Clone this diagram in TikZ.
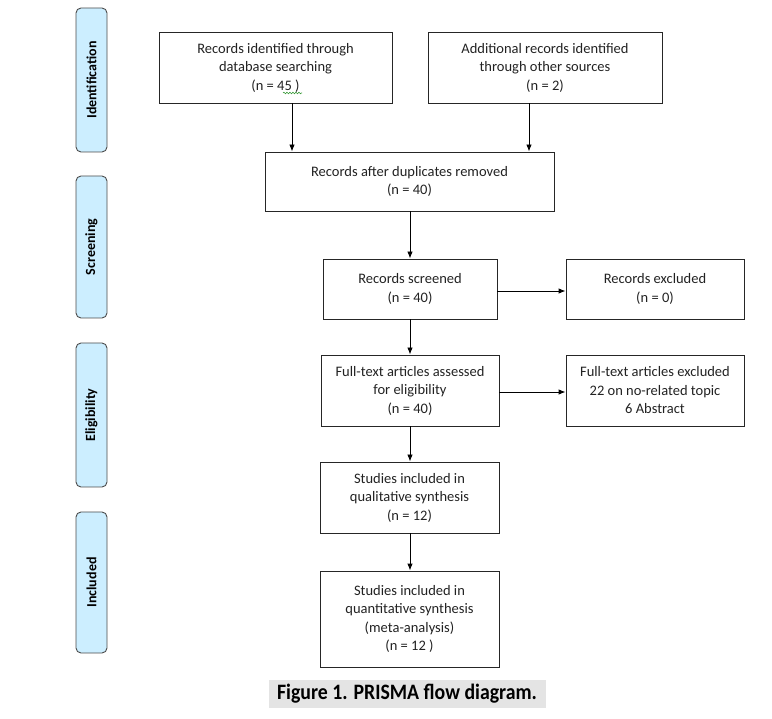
\documentclass[tikz,border=0pt]{standalone}
\usepackage{fontspec}
\setmainfont{Carlito}
\newfontfamily\capfont{Carlito}[FakeStretch=0.9]
\usetikzlibrary{arrows.meta,calc,decorations.pathmorphing}
\definecolor{sidefill}{HTML}{CCEEFF}
\definecolor{txt}{HTML}{222222}
\definecolor{capbg}{HTML}{E4E4E4}
\definecolor{spell}{HTML}{3A9A3A}
\tikzset{
  flowbox/.style={draw=black!85, line width=0.9pt, inner sep=0pt, align=center,
    text=txt, font=\fontsize{14.5}{18.5}\selectfont},
  sidebox/.style={draw=black!70, line width=0.9pt, fill=sidefill, rounded corners=5pt,
    inner sep=0pt, minimum width=31pt, text=black, font=\bfseries\fontsize{14}{16}\selectfont},
  arr/.style={draw=black, line width=0.9pt, -{Latex[length=7pt,width=5.5pt]}},
}
\begin{document}
\begin{tikzpicture}[x=1pt,y=-1pt]
\useasboundingbox (0,0) rectangle (772,719);
% side labels
\node[sidebox, minimum height=144pt] (sid) at (91.5,80) {\rotatebox{90}{Identification}};
\node[sidebox, minimum height=142pt] (ssc) at (91.5,247) {\rotatebox{90}{Screening}};
\node[sidebox, minimum height=144pt] (sel) at (91.5,415) {\rotatebox{90}{Eligibility}};
\node[sidebox, minimum height=141pt] (sin) at (91.5,582.5) {\rotatebox{90}{Included}};
% boxes
\node[flowbox, minimum width=233pt, minimum height=71pt] (b1) at (275.5,67.5)
  {Records identified through\\database searching\\(n = 45 )};
\node[flowbox, minimum width=234pt, minimum height=71pt] (b2) at (545,67.5)
  {Additional records identified\\through other sources\\(n = 2)};
\node[flowbox, minimum width=289pt, minimum height=59pt] (b3) at (409.5,181.5)
  {Records after duplicates removed\\(n = 40)};
\node[flowbox, minimum width=174pt, minimum height=60pt] (b4) at (410,289)
  {Records screened\\(n = 40)};
\node[flowbox, minimum width=178pt, minimum height=60pt] (b5) at (655,289)
  {Records excluded\\(n = 0)};
\node[flowbox, minimum width=178pt, minimum height=71pt] (b6) at (410,390.5)
  {Full-text articles assessed\\for eligibility\\(n = 40)};
\node[flowbox, minimum width=178pt, minimum height=71pt] (b7) at (655,390.5)
  {Full-text articles excluded\\22 on no-related topic\\6 Abstract};
\node[flowbox, minimum width=179pt, minimum height=71pt] (b8) at (409.5,497.5)
  {Studies included in\\qualitative synthesis\\(n = 12)};
\node[flowbox, minimum width=179pt, minimum height=96pt] (b9) at (409.5,619)
  {Studies included in\\quantitative synthesis\\(meta-analysis)\\(n = 12 )};
% caption
\node[fill=capbg, minimum width=277pt, minimum height=28pt, inner sep=0pt,
  font=\capfont\bfseries\fontsize{22}{24}\selectfont, text=black] (cap) at (407,694)
  {Figure 1. PRISMA flow diagram.};
% spell-check squiggle under "45 )"
\coordinate (sq1) at (283,93);
\coordinate (sq2) at (302,93);
\draw[spell, line width=0.6pt, decorate, decoration={snake, amplitude=0.8pt, segment length=3pt}] (sq1) -- (sq2);
% connectors
\coordinate (a1) at (292,0);
\coordinate (a2) at (529,0);
\coordinate (a3) at (410,0);
\draw[arr] (b1.south -| a1) -- (b3.north -| a1);
\draw[arr] (b2.south -| a2) -- (b3.north -| a2);
\draw[arr] (b3.south -| a3) -- (b4.north -| a3);
\draw[arr] (b4.south -| a3) -- (b6.north -| a3);
\draw[arr] (b6.south -| a3) -- (b8.north -| a3);
\draw[arr] (b8.south -| a3) -- (b9.north -| a3);
\draw[arr] ($(b4.east)+(0,2)$) -- ($(b5.west)+(0,2)$);
\draw[arr] ($(b6.east)+(0,1.5)$) -- ($(b7.west)+(0,1.5)$);
\end{tikzpicture}
\end{document}
